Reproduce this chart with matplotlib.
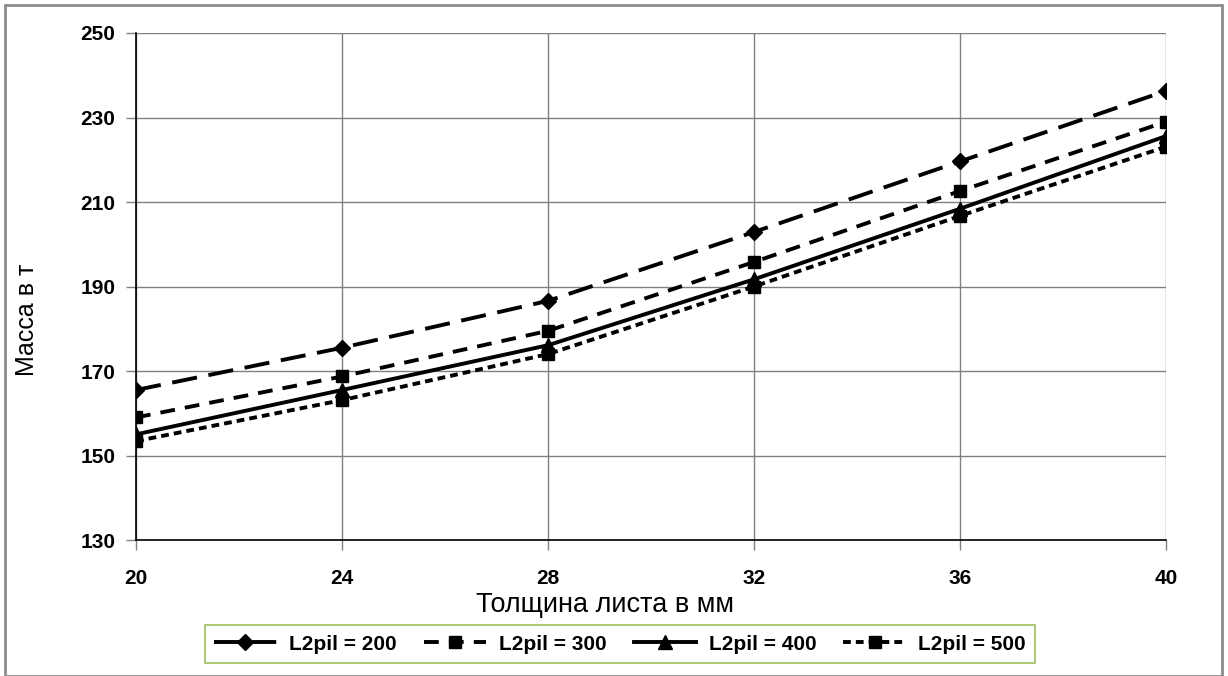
import matplotlib
matplotlib.use("Agg")
import matplotlib.pyplot as plt
from matplotlib.patches import Rectangle

plt.rcParams['font.family'] = ['Liberation Sans', 'DejaVu Sans']

thickness = [20, 24, 28, 32, 36, 40]
l2pil_200 = [165.5, 175.5, 186.6, 202.9, 219.6, 236.3]
l2pil_300 = [159.0, 168.7, 179.5, 195.8, 212.6, 229.0]
l2pil_400 = [155.0, 165.5, 176.1, 191.7, 208.4, 225.6]
l2pil_500 = [153.4, 163.1, 174.0, 190.0, 206.7, 223.1]
labels = ['L2pil = 200', 'L2pil = 300', 'L2pil = 400', 'L2pil = 500']
yticks = [130, 150, 170, 190, 210, 230, 250]

fig = plt.figure(figsize=(12.28, 6.76), dpi=100)
ax = fig.add_axes([136/1228, 1-540/676, (1166-136)/1228, (540-33)/676])

lw = 2.8
ax.plot(thickness, l2pil_200, color='black', lw=lw, dashes=(6.5, 3), marker='D', ms=8.5, label=labels[0])
ax.plot(thickness, l2pil_300, color='black', lw=lw, dashes=(3.8, 2.6), marker='s', ms=8.5, label=labels[1])
ax.plot(thickness, l2pil_400, color='black', lw=lw, ls='-', marker='^', ms=9.5, label=labels[2])
ax.plot(thickness, l2pil_500, color='black', lw=lw, dashes=(2, 1.3), marker='s', ms=8.5, label=labels[3])

ax.set_xlim(20, 40)
ax.set_ylim(130, 250)
ax.set_xticks(thickness)
ax.set_yticks(yticks)
ax.grid(True, color='#808080', lw=1)
ax.set_axisbelow(True)
for s in ['top', 'right']:
    ax.spines[s].set_visible(False)
for s in ['left', 'bottom']:
    ax.spines[s].set_color('black')
    ax.spines[s].set_linewidth(1.2)
ax.tick_params(axis='both', direction='out', length=7, width=1, color='#808080', labelsize=15)
ax.tick_params(axis='x', pad=14)
ax.tick_params(axis='y', pad=8)
for t in ax.get_xticklabels() + ax.get_yticklabels():
    t.set_fontweight('bold')

fig.text(27/1228, 1-320/676, 'Масса в т', rotation=90, ha='center', va='center', fontsize=18)
fig.text(605/1228, 1-605/676, 'Толщина листа в мм', ha='center', va='center', fontsize=19.5)

leg = fig.legend(loc='center', bbox_to_anchor=(620/1228, 1-644/676), ncol=4, frameon=True,
                 fancybox=False, prop={'weight': 'bold', 'size': 15}, handlelength=3.0,
                 columnspacing=1.3, handletextpad=0.6, borderpad=0.45, borderaxespad=0)
leg.get_frame().set_edgecolor('#9BBB59')
leg.get_frame().set_linewidth(1.5)

fig.patches.append(Rectangle((5/1228, 0), 1217/1228, 1-5/676, transform=fig.transFigure,
                             fill=False, edgecolor='#8c8c8c', lw=2))

fig.savefig('out.png', dpi=100)
